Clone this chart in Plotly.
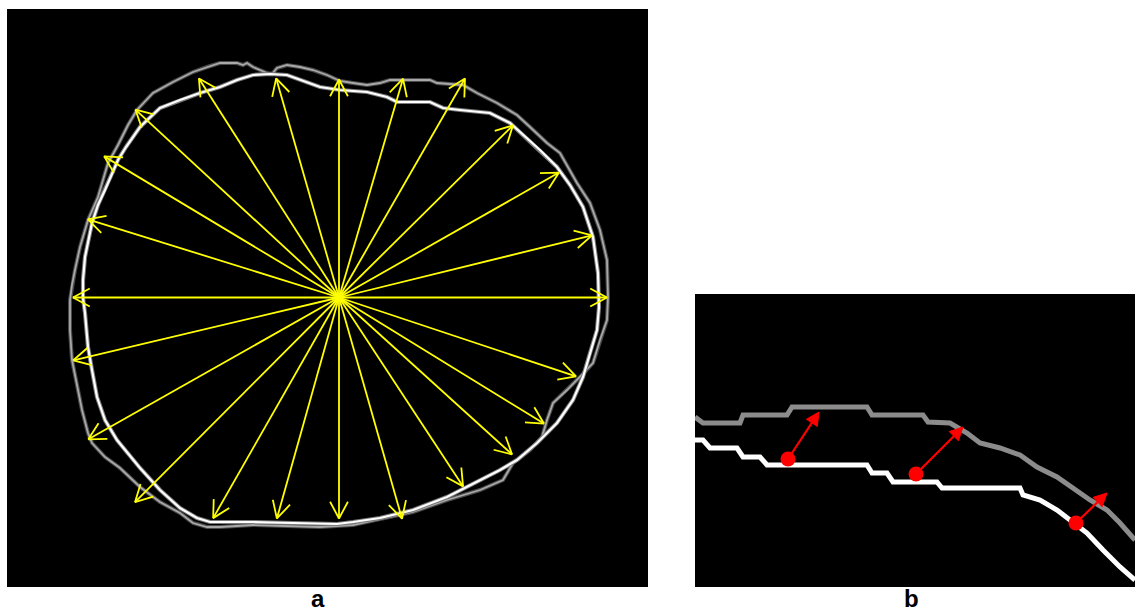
import math
import plotly.graph_objects as go

# ---------------- data (image pixel coordinates) ----------------
# Panel a: traced inner (white) contour
white_x = [83, 83, 85, 92, 98, 105, 118, 126, 140, 160, 180, 200, 220, 237, 253, 270, 287, 300, 320, 340,
           367, 387, 397, 430, 443, 460, 490, 510, 523, 540, 557, 570, 583, 593, 598, 599, 597, 590, 583, 573,
           557, 537, 517, 500, 480, 447, 413, 380, 353, 337, 293, 253, 210, 197, 180, 160, 140, 117, 105, 97,
           92, 88, 85, 83]
white_y = [298, 280, 257, 223, 205, 190, 160, 147, 127, 108, 100, 93, 87, 80, 75, 74, 75, 80, 87, 90,
           92, 97, 102, 102, 108, 110, 113, 123, 135, 150, 167, 185, 207, 237, 273, 307, 330, 353, 377, 400,
           423, 443, 460, 470, 480, 497, 510, 518, 522, 524, 523, 522, 522, 518, 508, 490, 468, 440, 420, 397,
           370, 347, 313, 298]

# Panel a: traced outer (gray) contour
gray_x = [70, 72, 75, 80, 88, 98, 108, 118, 128, 137, 153, 173, 193, 207, 220, 237, 243, 247, 253, 267,
          272, 277, 287, 300, 313, 327, 340, 353, 367, 380, 390, 430, 437, 463, 477, 497, 517, 530, 547, 560,
          570, 577, 590, 600, 607, 608, 607, 600, 593, 580, 567, 553, 547, 542, 530, 513, 503, 480, 447, 413,
          380, 353, 320, 253, 220, 207, 193, 180, 160, 140, 120, 105, 92, 88, 82, 77, 72, 70, 70]
gray_y = [300, 285, 270, 247, 220, 197, 163, 145, 125, 110, 93, 82, 72, 67, 63, 63, 65, 63, 67, 73,
          74, 68, 65, 67, 70, 75, 81, 83, 85, 83, 80, 80, 83, 85, 93, 103, 115, 127, 143, 153,
          170, 183, 203, 230, 260, 297, 320, 340, 363, 377, 390, 403, 420, 437, 450, 463, 480, 490, 500, 512,
          519, 525, 527, 525, 527, 527, 523, 513, 502, 487, 468, 457, 443, 433, 410, 383, 360, 330, 300]

# Panel a: radial rays from the centre
center = (339, 297.5)
ray_angle_deg = [0, 13.8, 29.6, 44.7, 60.1, 73.7, 90, 106, 122.6, 137.3, 149, 162.7,
                 180, 193.3, 209.5, 225.1, 240.3, 254.3, 270, 285.9, 303.3, 317.8, 328.4, 341.6]
ray_length = [268, 260.5, 253, 244.7, 252.7, 228, 218, 228, 260, 277, 274, 263,
              266, 273, 288, 289, 254, 229.5, 221, 230, 226, 233.6, 240.6, 249.8]

# Panel b: zoomed contours (stair-stepped)
b_gray_x = [695, 703, 740, 743, 787, 792, 867, 872, 923, 928, 950, 967, 980, 1000, 1020, 1037, 1057, 1073,
            1090, 1107, 1120, 1135]
b_gray_y = [417, 423, 423, 415, 415, 407, 407, 415, 415, 422, 423, 433, 443, 448, 455, 467, 477, 488,
            500, 510, 523, 540]
b_white_x = [695, 703, 710, 737, 743, 760, 767, 867, 872, 887, 893, 937, 942, 1020, 1023, 1040, 1057, 1070,
             1087, 1103, 1120, 1135]
b_white_y = [440, 440, 448, 448, 457, 457, 465, 465, 473, 473, 482, 482, 488, 488, 495, 500, 510, 520,
             533, 550, 567, 580]
b_point_x = [788, 916, 1076]
b_point_y = [459, 474, 523]
b_tip_x = [819, 963, 1107]
b_tip_y = [412, 427, 493]

panel_labels = ["a", "b"]

# ---------------- figure ----------------
W, H = 1135, 611
fig = go.Figure()

# panel a contours (with soft halo)
fig.add_trace(go.Scatter(x=gray_x, y=gray_y, mode="lines", line=dict(color="#4a4a4a", width=4),
                         hoverinfo="skip", showlegend=False, xaxis="x", yaxis="y"))
fig.add_trace(go.Scatter(x=gray_x, y=gray_y, mode="lines", line=dict(color="#a8a8a8", width=1.8),
                         hoverinfo="skip", showlegend=False, xaxis="x", yaxis="y"))
fig.add_trace(go.Scatter(x=white_x, y=white_y, mode="lines", line=dict(color="#7a7a7a", width=4.2),
                         hoverinfo="skip", showlegend=False, xaxis="x", yaxis="y"))
fig.add_trace(go.Scatter(x=white_x, y=white_y, mode="lines", line=dict(color="#ffffff", width=2.2),
                         hoverinfo="skip", showlegend=False, xaxis="x", yaxis="y"))

# rays + open arrow heads
sx, sy, hx, hy = [], [], [], []
head_len, head_half = 19.0, math.radians(28)
cx, cy = center
for a, L in zip(ray_angle_deg, ray_length):
    t = math.radians(a)
    ex = cx + L * math.cos(t)
    ey = cy - L * math.sin(t)
    sx += [cx, ex, None]
    sy += [cy, ey, None]
    back = t + math.pi
    for s in (-1, 1):
        bx = ex + head_len * math.cos(back + s * head_half)
        by = ey - head_len * math.sin(back + s * head_half)
        hx += [bx, ex]
        hy += [by, ey]
    hx.append(None)
    hy.append(None)
fig.add_trace(go.Scatter(x=sx, y=sy, mode="lines", line=dict(color="#ffff00", width=1.8),
                         hoverinfo="skip", showlegend=False, xaxis="x", yaxis="y"))
fig.add_trace(go.Scatter(x=hx, y=hy, mode="lines", line=dict(color="#ffff00", width=1.8),
                         hoverinfo="skip", showlegend=False, xaxis="x", yaxis="y"))

# panel b contours
fig.add_trace(go.Scatter(x=b_gray_x, y=b_gray_y, mode="lines", line=dict(color="#8c8c8c", width=5),
                         hoverinfo="skip", showlegend=False, xaxis="x2", yaxis="y2"))
fig.add_trace(go.Scatter(x=b_white_x, y=b_white_y, mode="lines", line=dict(color="#ffffff", width=5),
                         hoverinfo="skip", showlegend=False, xaxis="x2", yaxis="y2"))

# red arrows
ah_len, ah_half = 13.0, 6.5
for px, py, tx, ty in zip(b_point_x, b_point_y, b_tip_x, b_tip_y):
    dx, dy = tx - px, ty - py
    d = math.hypot(dx, dy)
    ux, uy = dx / d, dy / d
    bx, by = tx - ah_len * ux, ty - ah_len * uy
    fig.add_trace(go.Scatter(x=[px, bx], y=[py, by], mode="lines", line=dict(color="#ff0000", width=2.2),
                             hoverinfo="skip", showlegend=False, xaxis="x2", yaxis="y2"))
    fig.add_trace(go.Scatter(x=[tx, bx - ah_half * uy, bx + ah_half * uy, tx],
                             y=[ty, by + ah_half * ux, by - ah_half * ux, ty],
                             mode="lines", fill="toself", fillcolor="#ff0000",
                             line=dict(color="#ff0000", width=1),
                             hoverinfo="skip", showlegend=False, xaxis="x2", yaxis="y2"))
fig.add_trace(go.Scatter(x=b_point_x, y=b_point_y, mode="markers",
                         marker=dict(color="#ff0000", size=15, line=dict(width=0)),
                         hoverinfo="skip", showlegend=False, xaxis="x2", yaxis="y2"))

ax_common = dict(showgrid=False, zeroline=False, showticklabels=False, ticks="", showline=False, fixedrange=True)
label_font = dict(family="Liberation Sans, Arial", size=24, color="#000000")
fig.update_layout(
    width=W, height=H,
    margin=dict(l=0, r=0, t=0, b=0),
    paper_bgcolor="#ffffff",
    plot_bgcolor="#000000",
    xaxis=dict(domain=[7 / W, 648 / W], range=[7, 648], **ax_common),
    yaxis=dict(domain=[(H - 587) / H, (H - 9) / H], range=[587, 9], **ax_common),
    xaxis2=dict(domain=[695 / W, 1.0], range=[695, 1135], anchor="y2", **ax_common),
    yaxis2=dict(domain=[(H - 587) / H, (H - 294) / H], range=[587, 294], anchor="x2", **ax_common),
    annotations=[
        dict(text="<b>%s</b>" % panel_labels[0], x=318 / W, y=1 - 598 / H, xref="paper", yref="paper",
             xanchor="center", yanchor="middle", showarrow=False, font=label_font),
        dict(text="<b>%s</b>" % panel_labels[1], x=911 / W, y=1 - 598 / H, xref="paper", yref="paper",
             xanchor="center", yanchor="middle", showarrow=False, font=label_font),
    ],
)

fig.write_html("out.html", config={"displayModeBar": False},
               post_script="document.body.style.margin='0';")
